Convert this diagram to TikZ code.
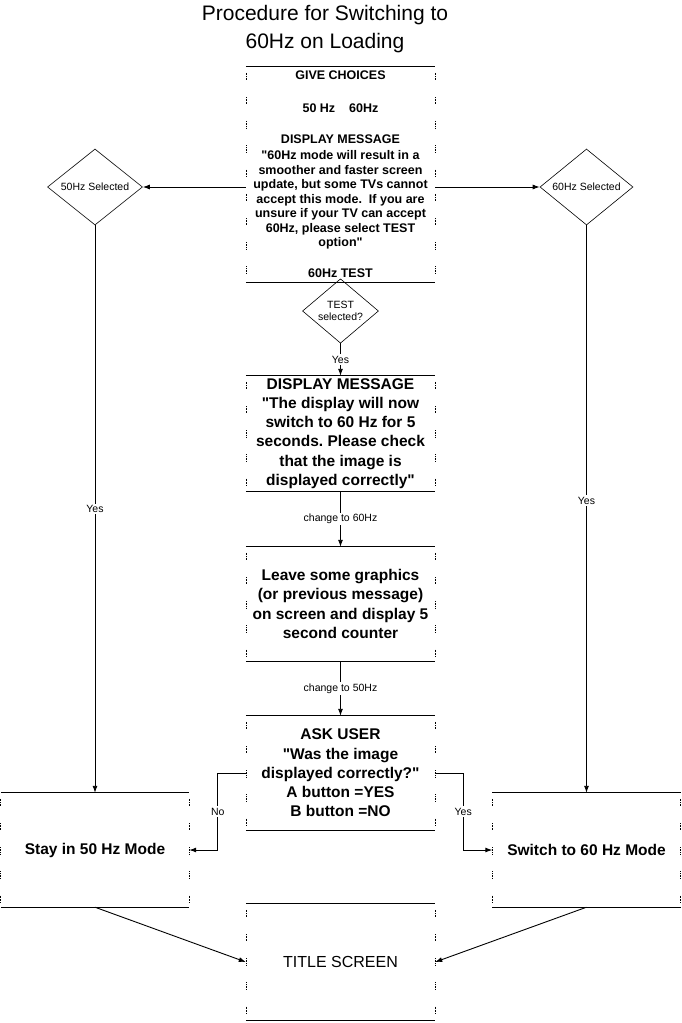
\documentclass[tikz,border=0pt]{standalone}
\usepackage{fontspec}
\setmainfont{Liberation Sans}[Ligatures=TeXOff]
\usepackage{tikz}
\usetikzlibrary{arrows.meta,shapes}
\usetikzlibrary{shapes.geometric}
\usetikzlibrary{positioning}
\usetikzlibrary{calc}
\frenchspacing
\tikzset{
    >={Latex[length=7pt,width=5pt]},
    flow/.style={draw=black, line width=0.9pt, ->},
    stepbox/.style={minimum width=189pt, align=center, inner sep=0pt,
        font=\bfseries\fontsize{15.5}{19.3}\selectfont},
    choice/.style={diamond, draw=black, line width=0.6pt, inner sep=0pt, align=center,
        font=\fontsize{10.5}{12}\selectfont},
    lbl/.style={fill=white, inner sep=1.5pt, font=\fontsize{10.5}{12}\selectfont},
    edgeline/.style={draw=black, line width=0.9pt},
    sideline/.style={draw=black, line width=0.6pt, dash phase=-6pt,
        dash pattern=on 0.8pt off 0.8pt on 0.8pt off 0.8pt on 0.8pt off 0.8pt on 0.8pt off 0.8pt on 0.8pt off 17pt},
}
\begin{document}
\begin{tikzpicture}[x=1pt, y=-1pt]
    \useasboundingbox[fill=white] (0,0) rectangle (681,1023);
    \node[font=\fontsize{21}{28}\selectfont, align=center] (heading) at (325,29)
        {Procedure for Switching to\\60Hz on Loading};
    % steps
    \node[stepbox, minimum height=215pt, font=\bfseries\fontsize{12.5}{14.5}\selectfont] (choices) at (340.5,174.5)
        {GIVE CHOICES\\[18.5pt]
         50 Hz\hspace{14pt}60Hz\\[16.5pt]
         DISPLAY MESSAGE\\[1.5pt]
         "60Hz mode will result in a\\
         smoother and faster screen\\
         update, but some TVs cannot\\
         accept this mode.\ \ If you are\\
         unsure if your TV can accept\\
         60Hz, please select TEST\\
         option"\\[16.5pt]
         60Hz TEST};
    \node[choice, minimum width=95pt, minimum height=69pt] (sel50) at (95,187) {50Hz Selected};
    \node[choice, minimum width=93pt, minimum height=70pt] (sel60) at (586.5,187) {60Hz Selected};
    \node[choice, minimum width=76pt, minimum height=58pt] (seltest) at (340.5,311) {TEST\\selected?};
    \node[stepbox, minimum height=115pt] (dispmsg) at (340.5,433.5)
        {DISPLAY MESSAGE\\
         "The display will now\\
         switch to 60 Hz for 5\\
         seconds. Please check\\
         that the image is\\
         displayed correctly"};
    \node[stepbox, minimum height=114pt] (counter) at (340.5,604)
        {Leave some graphics\\
         (or previous message)\\
         on screen and display 5\\
         second counter};
    \node[stepbox, minimum height=114pt] (askuser) at (340.5,773)
        {ASK USER\\
         "Was the image\\
         displayed correctly?"\\
         A button =YES\\
         B button =NO};
    \node[stepbox, minimum width=188pt, minimum height=114pt] (stay) at (95,850) {Stay in 50 Hz Mode};
    \node[stepbox, minimum width=188pt, minimum height=114pt] (switch) at (586.5,850) {Switch to 60 Hz Mode};
    \node[stepbox, minimum height=116pt, font=\fontsize{16}{19}\selectfont] (title) at (340.5,962) {TITLE SCREEN};
    % box outlines
    \foreach \b in {choices,dispmsg,counter,askuser,stay,switch,title}{
        \draw[edgeline] (\b.north west) -- (\b.north east);
        \draw[edgeline] (\b.south west) -- (\b.south east);
        \draw[sideline] (\b.north west) -- (\b.south west);
        \draw[sideline] (\b.north east) -- (\b.south east);
    }
    % connectors
    \draw[flow] (sel50.east -| choices.west) -- (sel50.east);
    \draw[flow] (sel60.west -| choices.east) -- (sel60.west);
    \draw[flow] (sel50.south) -- node[lbl]{Yes} (stay.north);
    \draw[flow] (sel60.south) -- node[lbl, pos=0.485]{Yes} (switch.north);
    \draw[flow] (seltest.south) -- node[lbl]{Yes} (dispmsg.north);
    \draw[flow] (dispmsg.south) -- node[lbl]{change to 60Hz} (counter.north);
    \draw[flow] (counter.south) -- node[lbl]{change to 50Hz} (askuser.north);
    \draw[flow] (askuser.west) -- ++(-28,0) |- node[lbl, pos=0.25]{No} (stay.east);
    \draw[flow] (askuser.east) -- ++(28,0) |- node[lbl, pos=0.25]{Yes} (switch.west);
    \draw[flow] (stay.south) -- (title.west);
    \draw[flow] (switch.south) -- (title.east);
\end{tikzpicture}
\end{document}
